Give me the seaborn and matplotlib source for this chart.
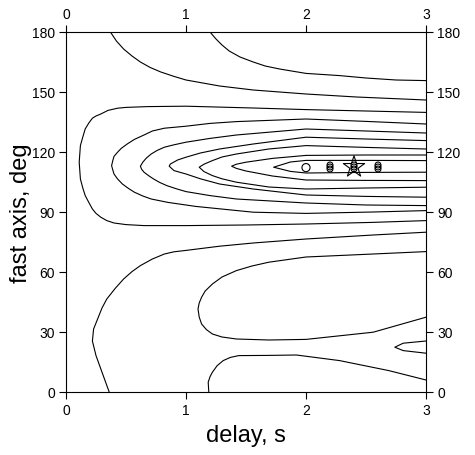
import matplotlib
matplotlib.use("Agg")
import matplotlib.pyplot as plt
import numpy as np
import pandas as pd
import seaborn as sns

# ---- contour lines (delay in s, fast axis in deg) ----
c1_delay = [0.37, 0.42, 0.48, 0.55, 0.62, 0.7, 0.79, 0.9, 1.0, 1.28, 1.56, 2.0, 2.42, 3.0]
c1_angle = [180, 175.5, 171.5, 168, 165, 162.3, 160, 157.8, 156, 153, 151, 149, 147.5, 146]

c2_delay = [1.2, 1.25, 1.3, 1.36, 1.45, 1.56, 1.66, 1.78, 2.0, 2.28, 2.5, 2.75, 3.0]
c2_angle = [180, 176.5, 173.5, 170.5, 167.5, 165, 163, 161.5, 159.3, 158.2, 157, 156, 155.7]

c3_delay = [3.0, 2.5, 2.0, 1.56, 1.0, 0.68, 0.5, 0.43, 0.35, 0.29, 0.25, 0.22, 0.19, 0.16,
            0.14, 0.12, 0.11, 0.12, 0.14, 0.16, 0.19, 0.22, 0.25, 0.29, 0.34, 0.4, 0.5,
            0.65, 1.0, 1.5, 2.0, 2.55, 3.0]
c3_angle = [139.8, 140.5, 141.2, 142, 142.9, 142.7, 142.3, 141.9, 140.8, 139, 138, 136.9, 134.5, 131.5,
            127.5, 123.2, 114.9, 106.5, 102, 98.2, 94.8, 91.5, 89.3, 87.4, 85.7, 84.5, 83.7,
            83.2, 83.2, 83.5, 84, 84.8, 85.7]

c4_delay = [3.0, 2.5, 2.0, 1.42, 1.2, 1.0, 0.82, 0.72, 0.65, 0.57, 0.51, 0.46, 0.43, 0.4,
            0.39, 0.38, 0.39, 0.4, 0.43, 0.47, 0.52, 0.57, 0.64, 0.71, 0.85, 1.0, 1.08, 1.56,
            2.0, 2.56, 3.0]
c4_angle = [134, 135.3, 136.5, 135.2, 134.3, 132.9, 131.9, 130.5, 128.5, 126.3, 124, 121.8, 119.9, 117.8,
            115.7, 113.2, 111, 109, 106.5, 104, 101.8, 99.9, 98.0, 96.5, 94.8, 93.5, 92.8, 89.9,
            89.3, 90, 90.7]

c5_delay = [3.0, 2.5, 2.0, 1.42, 1.2, 1.0, 0.9, 0.82, 0.76, 0.71, 0.67, 0.64, 0.62, 0.63,
            0.65, 0.69, 0.73, 0.78, 0.84, 0.92, 1.0, 1.2, 1.42, 2.0, 2.5, 3.0]
c5_angle = [129.5, 130.5, 131.5, 128.5, 126.8, 124.9, 123.6, 122.4, 120.8, 119, 117, 114.9, 112.9, 111.4,
            109.9, 108.1, 106.5, 104.8, 103.2, 101.6, 100.2, 98.2, 96.5, 94.5, 93.5, 93.2]

c6_delay = [3.0, 2.5, 2.0, 1.56, 1.28, 1.12, 1.0, 0.93, 0.87, 0.86, 0.9, 1.0, 1.12, 1.28,
            1.56, 2.0, 2.5, 3.0]
c6_angle = [125.7, 126.5, 127.4, 124, 121.5, 119.5, 117.4, 116, 114, 112.9, 110.7, 109, 106.6, 104,
            101.5, 98.5, 97.8, 97.4]

c7_delay = [3.0, 2.5, 2.0, 1.69, 1.42, 1.3, 1.22, 1.15, 1.11, 1.15, 1.22, 1.3, 1.42, 1.69,
            2.0, 2.5, 3.0]
c7_angle = [121.5, 122.3, 123.2, 121.5, 119, 117.5, 115.7, 113.9, 112.4, 110.2, 108.2, 106.6, 104.9, 102.5,
            101.5, 102, 102.4]

c8_delay = [3.0, 2.5, 2.0, 1.72, 1.5, 1.42, 1.38, 1.42, 1.5, 1.72, 2.0, 2.5, 3.0]
c8_angle = [118.5, 118.5, 118.3, 116.8, 114.9, 113.9, 112.9, 111.8, 110.5, 108, 106, 105.8, 105.7]

c9_delay = [3.0, 2.5, 2.0, 1.87, 1.73, 1.87, 2.0, 2.5, 3.0]
c9_angle = [115.7, 115.8, 115.8, 115, 112.4, 110.3, 109.5, 109.8, 109.9]

c10_delay = [0.36, 0.3, 0.25, 0.22, 0.23, 0.27, 0.3, 0.34, 0.41, 0.48, 0.55, 0.62, 0.72,
             0.82, 0.9, 1.0, 1.28, 1.56, 2.0, 2.56, 3.0]
c10_angle = [0, 9.9, 18.2, 25.5, 31.5, 37.5, 42, 46.5, 51.8, 56.5, 60.2, 63.2, 66.5,
             69, 70.1, 70.8, 72.9, 74.5, 76.5, 78.5, 79.9]

c11_delay = [3.0, 2.56, 2.0, 1.69, 1.55, 1.42, 1.3, 1.22, 1.16, 1.13, 1.11, 1.1, 1.11, 1.13,
             1.17, 1.22, 1.3, 1.42, 1.69, 2.0, 2.56, 3.0]
c11_angle = [70.2, 69, 67.5, 64.9, 63, 60.7, 57.5, 54, 50.5, 47.4, 44.5, 41.5, 37.5, 34,
             31.2, 29, 27.5, 26.5, 26, 26.3, 29.9, 37.4]

c12_delay = [1.19, 1.185, 1.2, 1.22, 1.26, 1.31, 1.37, 1.44, 1.69, 1.92, 2.28, 2.69, 3.0]
c12_angle = [0, 4.9, 7.6, 9.9, 13.2, 15.7, 17.3, 18.2, 18.3, 18.5, 15.7, 10.7, 6]

c13_delay = [3.0, 2.81, 2.74, 2.81, 3.0]
c13_angle = [25.5, 24.4, 22.4, 20.7, 19.4]

# ---- markers ----
circle_delay = [2.0]
circle_angle = [112.2]
stack_delay = [2.2, 2.2, 2.2, 2.4, 2.4, 2.4, 2.6, 2.6, 2.6]
stack_angle = [111.5, 112.5, 113.5, 111.5, 112.5, 113.5, 111.5, 112.5, 113.5]
star_delay = [2.4]
star_angle = [112.5]

x_ticks = [0, 1, 2, 3]
y_ticks = [0, 30, 60, 90, 120, 150, 180]
x_label = "delay, s"
y_label = "fast axis, deg"

contours = {
    "c1": (c1_delay, c1_angle), "c2": (c2_delay, c2_angle),
    "c3": (c3_delay, c3_angle), "c4": (c4_delay, c4_angle),
    "c5": (c5_delay, c5_angle), "c6": (c6_delay, c6_angle),
    "c7": (c7_delay, c7_angle), "c8": (c8_delay, c8_angle),
    "c9": (c9_delay, c9_angle), "c10": (c10_delay, c10_angle),
    "c11": (c11_delay, c11_angle), "c12": (c12_delay, c12_angle),
    "c13": (c13_delay, c13_angle),
}
rows = []
for name, (dl, an) in contours.items():
    for i, (d, a) in enumerate(zip(dl, an)):
        rows.append({"contour": name, "order": i, "delay": d, "angle": a})
df = pd.DataFrame(rows)

sns.set_style("ticks")
plt.rcParams["font.family"] = ["Liberation Sans", "DejaVu Sans"]

W, H = 475, 456
fig = plt.figure(figsize=(W / 100, H / 100), dpi=100)
ax = fig.add_axes([66 / W, 1 - 393 / H, 360 / W, 360 / H])

sns.lineplot(data=df, x="delay", y="angle", units="contour", estimator=None,
             sort=False, color="black", linewidth=0.8, ax=ax, legend=False)

sns.scatterplot(x=circle_delay, y=circle_angle, marker="o", s=34,
                facecolors="none", edgecolor="black", linewidth=0.8, ax=ax, zorder=3)
sns.scatterplot(x=stack_delay, y=stack_angle, marker="o", s=18,
                facecolors="none", edgecolor="black", linewidth=0.8, ax=ax, zorder=3)
sns.scatterplot(x=star_delay, y=star_angle, marker="*", s=260,
                facecolors="none", edgecolor="black", linewidth=0.8, ax=ax, zorder=3)

ax.set_xlim(0, 3)
ax.set_ylim(0, 180)
ax.set_xticks(x_ticks)
ax.set_yticks(y_ticks)
ax.set_xticklabels([str(v) for v in x_ticks])
ax.set_yticklabels([str(v) for v in y_ticks])
ax.tick_params(axis="both", which="both", direction="out", length=5, width=0.8,
               color="black", labelsize=10, labelcolor="black", pad=3,
               top=True, right=True, labeltop=True, labelright=True)
for sp in ax.spines.values():
    sp.set_visible(True)
    sp.set_color("black")
    sp.set_linewidth(0.8)
ax.grid(False)
ax.set_facecolor("white")
ax.set_xlabel(x_label, fontsize=17, color="black", labelpad=5)
ax.set_ylabel(y_label, fontsize=17, color="black", labelpad=0)

fig.savefig("out.png", dpi=100, facecolor="white")
